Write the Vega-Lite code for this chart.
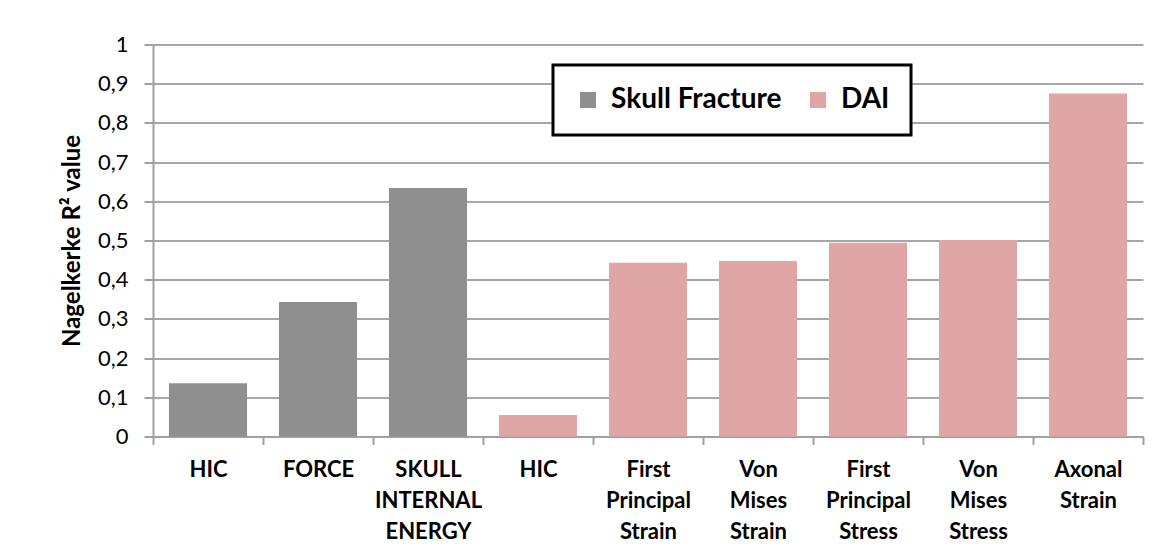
{
  "$schema": "https://vega.github.io/schema/vega-lite/v6.json",
  "autosize": {"type": "none"},
  "width": 990,
  "height": 392,
  "padding": {"left": 153, "top": 44.5, "right": 22, "bottom": 123.5},
  "background": "white",
  "config": {"view": {"stroke": null}, "font": "Lato"},
  "data": {
    "values": [
      {"label": "HIC", "group": "Skull Fracture", "value": 0.136},
      {"label": "FORCE", "group": "Skull Fracture", "value": 0.343},
      {"label": "SKULL|INTERNAL|ENERGY", "group": "Skull Fracture", "value": 0.634},
      {"label": "HIC ", "group": "DAI", "value": 0.055},
      {"label": "First|Principal|Strain", "group": "DAI", "value": 0.443},
      {"label": "Von|Mises|Strain", "group": "DAI", "value": 0.448},
      {"label": "First|Principal|Stress", "group": "DAI", "value": 0.494},
      {"label": "Von|Mises|Stress", "group": "DAI", "value": 0.501},
      {"label": "Axonal|Strain", "group": "DAI", "value": 0.875}
    ]
  },
  "mark": {"type": "bar", "width": {"band": 0.71}},
  "encoding": {
    "x": {
      "field": "label",
      "type": "nominal",
      "sort": null,
      "scale": {"paddingInner": 0, "paddingOuter": 0},
      "axis": {
        "title": null,
        "labelAngle": 0,
        "labelExpr": "datum.value ? split(trim(datum.value), '|') : ''",
        "labelFont": "Lato",
        "labelFontWeight": "bold",
        "labelFontSize": 22,
        "labelColor": "black",
        "labelLineHeight": 31,
        "labelPadding": 15,
        "labelBaseline": "top",
        "tickBand": "extent",
        "tickSize": 8,
        "tickColor": "#a0a0a0",
        "tickWidth": 2,
        "domainColor": "#a0a0a0",
        "domainWidth": 2,
        "grid": false
      }
    },
    "y": {
      "field": "value",
      "type": "quantitative",
      "scale": {"domain": [0, 1], "nice": false},
      "axis": {
        "title": "Nagelkerke R² value",
        "titleFont": "Lato",
        "titleFontSize": 24,
        "titleFontWeight": "bold",
        "titleColor": "black",
        "titlePadding": 13,
        "values": [0, 0.1, 0.2, 0.3, 0.4, 0.5, 0.6, 0.7, 0.8, 0.9, 1],
        "labelExpr": "replace(format(datum.value, '.1~f'), '.', ',')",
        "labelFont": "Lato",
        "labelFontSize": 22,
        "labelColor": "black",
        "labelPadding": 16,
        "tickSize": 9,
        "tickColor": "#a0a0a0",
        "tickWidth": 2,
        "domainColor": "#a0a0a0",
        "domainWidth": 2,
        "grid": true,
        "gridColor": "#a6a6a6",
        "gridWidth": 2
      }
    },
    "color": {
      "field": "group",
      "type": "nominal",
      "scale": {"domain": ["Skull Fracture", "DAI"], "range": ["#8f8f8f", "#e0a6a5"]},
      "legend": {
        "title": null,
        "orient": "none",
        "legendX": 400,
        "legendY": 20.5,
        "direction": "horizontal",
        "symbolType": "square",
        "symbolSize": 256,
        "symbolStrokeWidth": 0,
        "labelFont": "Lato",
        "labelFontSize": 28,
        "labelFontWeight": "bold",
        "labelColor": "black",
        "labelLimit": 400,
        "labelOffset": 9,
        "columnPadding": 22,
        "padding": 21,
        "strokeColor": "black",
        "fillColor": "white",
        "encode": {"legend": {"update": {"strokeWidth": {"value": 3}}}}
      }
    }
  }
}
